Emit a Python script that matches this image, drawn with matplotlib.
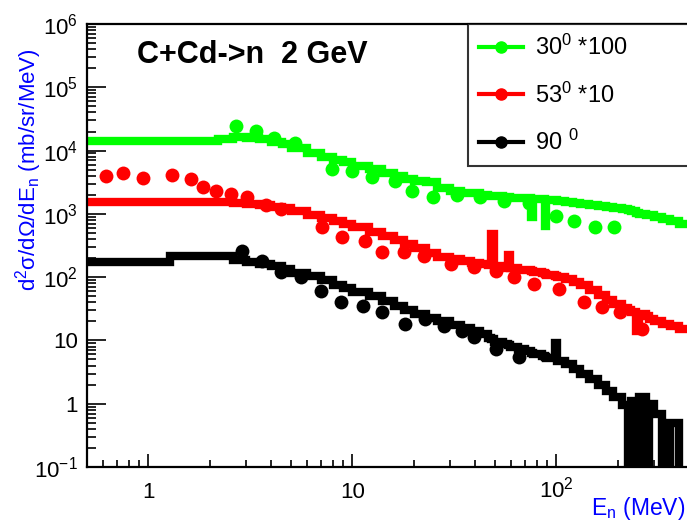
import numpy as np
import matplotlib
matplotlib.use('Agg')
import matplotlib.pyplot as plt
from matplotlib.lines import Line2D
from matplotlib.ticker import LogLocator, NullFormatter

plt.rcParams['font.family'] = ['Liberation Sans', 'DejaVu Sans']
plt.rcParams['mathtext.fontset'] = 'custom'
plt.rcParams['mathtext.rm'] = 'Liberation Sans'
plt.rcParams['mathtext.it'] = 'Liberation Sans'
plt.rcParams['mathtext.default'] = 'regular'

# model histograms (bin edges in MeV, shared by all three angles)
edges = [0.5, 1.27, 2.2, 2.6, 3.0, 3.5, 4.0, 4.5, 5, 6,
         7, 8, 9, 10, 12, 14, 16, 18, 20, 23,
         26, 30, 34, 38, 42, 46, 48, 49.5, 55, 58,
         59, 65, 70, 75, 76.5, 85, 88, 89, 98, 101,
         110, 120, 130, 145, 160, 175, 190, 210, 225, 232,
         245, 255, 275, 285, 300, 330, 360, 400, 440]

model_30 = [14300, 14300, 15500, 16500, 16000, 15000, 13500, 12500, 11000,
            9200, 8000, 7200, 6500, 5800, 5100, 4500, 4000, 3600, 3300,
            3150, 2600, 2300, 2150, 2100, 2000, 1950, 1950, 1900, 1850,
            1850, 1800, 1800, 1750, 900, 1700, 1700, 650, 1650, 1650,
            1600, 1550, 1500, 1450, 1400, 1350, 1300, 1250, 1200, 1150,
            1100, 1050, 1000, 950, 950, 900, 820, 760, 700]

model_53 = [1550, 1550, 1550, 1480, 1420, 1380, 1300, 1230, 1100,
            970, 870, 780, 700, 610, 520, 440, 380, 330, 285,
            240, 210, 192, 178, 170, 160, 155, 480, 150, 142,
            220, 138, 132, 128, 124, 120, 116, 114, 110, 106,
            102, 94, 85, 75, 62, 52, 44, 38, 33, 30,
            28, 14, 26, 24, 22, 20, 18, 17, 15]

model_90 = [175, 215, 215, 190, 175, 160, 150, 135, 118,
            105, 90, 76, 68, 58, 50, 42, 35, 30, 26,
            23, 20, 17.5, 15.5, 14, 12.5, 11, 10.5, 9.5, 8.8,
            8.5, 7.8, 7.2, 6.8, 6.4, 6.0, 5.6, 5.4, 5.2, 9,
            4.8, 4.2, 3.6, 3.0, 2.5, 2.0, 1.6, 1.3, 0.95, 0.08,
            1.1, 0.08, 1.3, 0.08, 1.0, 0.7, 0.08, 0.5, 0.08]

# measured points
exp30_E = [2.7, 3.35, 4.15, 5.26, 7.9, 9.9, 12.5, 16.1, 19.7, 24.7,
           32.7, 42, 55.6, 73.8, 100, 122, 154, 192]
exp30_y = [24600, 20500, 15800, 13300, 5160, 4790, 3850, 3320, 2320, 1860,
           2010, 1880, 1610, 1500, 933, 780, 625, 625]

exp53_E = [0.623, 0.754, 0.945, 1.30, 1.61, 1.86, 2.15, 2.55, 3.06, 3.79,
           4.48, 7.13, 8.93, 11.5, 14.0, 18.0, 22.5, 30.6, 39.6, 50.8,
           62.3, 78, 103, 137, 168, 204, 263]
exp53_y = [3990, 4450, 3720, 4150, 3580, 2680, 2320, 2080, 1860, 1400,
           1210, 625, 434, 376, 251, 251, 218, 163, 146, 126,
           101, 78.7, 65.6, 40.9, 34, 28.4, 15.3]

exp90_E = [2.89, 3.62, 4.48, 5.62, 7.05, 8.83, 11.3, 13.9, 18.2, 22.8,
           28.2, 34.6, 39.6, 50.8, 65.9]
exp90_y = [261, 182, 122, 101, 61, 40.9, 35.3, 28.4, 18.4, 22,
           17.1, 14.2, 11.4, 7.4, 5.5]

labels = ['30$^{0}$ *100', '53$^{0}$ *10', '90 $^{0}$']
colors = ['#00ff00', '#ff0000', '#000000']

fig = plt.figure(figsize=(6.87, 5.21), dpi=100)
ax = fig.add_axes([87/687, 54/521, 612/687, 443/521])

series = [(model_30, exp30_E, exp30_y), (model_53, exp53_E, exp53_y),
          (model_90, exp90_E, exp90_y)]
for (model, xe, ye), c in zip(series, colors):
    ax.stairs(model, edges, baseline=None, color=c, lw=6)
    ax.plot(xe, ye, 'o', color=c, ms=10, mew=0)

ax.set_xscale('log')
ax.set_yscale('log')
ax.set_xlim(0.5, 500)
ax.set_ylim(0.1, 1e6)

ax.set_yticks([0.1, 1, 10, 100, 1e3, 1e4, 1e5, 1e6],
              ['10$^{-1}$', '1', '10', '10$^{2}$', '10$^{3}$', '10$^{4}$',
               '10$^{5}$', '10$^{6}$'])
ax.set_xticks([1, 10, 100], ['1', '10', '10$^{2}$'])
ax.yaxis.set_minor_locator(LogLocator(base=10, subs=np.arange(2, 10), numticks=20))
ax.xaxis.set_minor_locator(LogLocator(base=10, subs=np.arange(2, 10), numticks=20))
ax.yaxis.set_minor_formatter(NullFormatter())
ax.xaxis.set_minor_formatter(NullFormatter())

ax.tick_params(which='both', direction='in', width=1.2, labelsize=16)
ax.tick_params(axis='y', which='major', length=13.5, pad=6.5)
ax.tick_params(axis='y', which='minor', length=6.5)
ax.tick_params(axis='x', which='major', length=9.5, pad=22)
ax.tick_params(axis='x', which='minor', length=5)
for lbl in ax.get_xticklabels():
    lbl.set_va('baseline')
for sp in ax.spines.values():
    sp.set_linewidth(1.6)

handles = [Line2D([], [], color=c, lw=3, marker='o', ms=8) for c in colors]
leg = ax.legend(handles, labels, loc='upper left',
                bbox_to_anchor=((468 - 87) / 612, 0, (700 - 468) / 612, 1.0),
                mode='expand', borderaxespad=0, fontsize=17, frameon=True,
                fancybox=False, edgecolor='black', handlelength=1.9,
                handletextpad=0.5, labelspacing=0.95, borderpad=0.45)
leg.get_frame().set_linewidth(1.5)

fig.text(137/687, 1 - 55/521, 'C+Cd->n  2 GeV', fontsize=22, fontweight='bold',
         ha='left', va='center')
fig.text(29/687, 1 - 170/521, 'd$^{2}$σ/dΩ/dE$_{n}$ (mb/sr/MeV)', rotation=90,
         ha='center', va='center', color='blue', fontsize=16)
fig.text(685/687, 1 - 509/521, 'E$_{n}$ (MeV)', ha='right', va='center',
         color='blue', fontsize=16.5)

fig.savefig('out.png', dpi=100)
